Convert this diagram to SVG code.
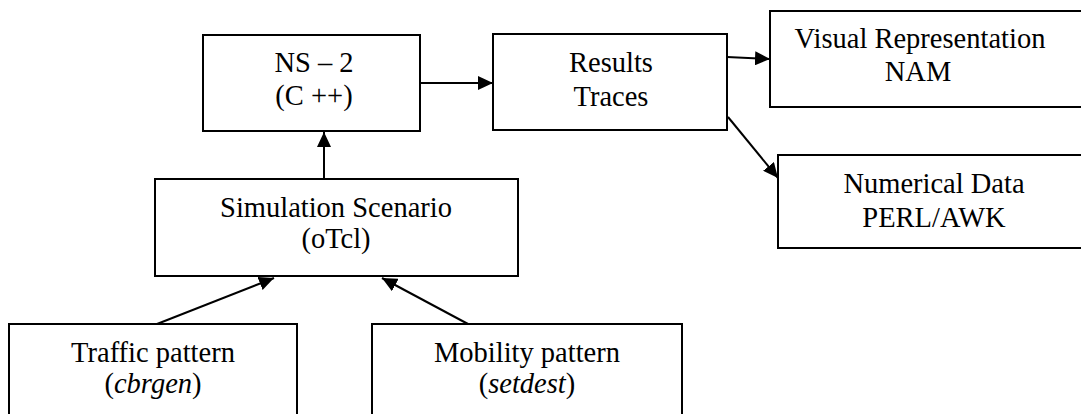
<svg xmlns="http://www.w3.org/2000/svg" width="1081" height="414" viewBox="0 0 1081 414">
  <style>
    .box { fill: #fff; stroke: #000; stroke-width: 2; }
    .lbl { font-family: "Liberation Serif", "Times New Roman", serif; font-size: 28.5px; fill: #000; text-anchor: middle; }
    .it { font-style: italic; }
    .conn { stroke: #000; stroke-width: 2; fill: none; marker-end: url(#arr); }
  </style>
  <defs>
    <marker id="arr" markerUnits="userSpaceOnUse" markerWidth="16" markerHeight="14" refX="15" refY="7" orient="auto">
      <path d="M0,0 L15,7 L0,14 z" fill="#000"/>
    </marker>
  </defs>
  <rect width="1081" height="414" fill="#fff"/>
  <g id="ns2">
    <rect class="box" x="203" y="35" width="217" height="96"/>
    <text class="lbl" x="314" y="72">NS – 2</text>
    <text class="lbl" x="314" y="105">(C ++)</text>
  </g>
  <g id="results">
    <rect class="box" x="493" y="34" width="234" height="96"/>
    <text class="lbl" x="611" y="72">Results</text>
    <text class="lbl" x="611" y="106">Traces</text>
  </g>
  <g id="visual">
    <rect class="box" x="770" y="11" width="330" height="96"/>
    <text class="lbl" x="920" y="48">Visual Representation</text>
    <text class="lbl" x="918" y="81">NAM</text>
  </g>
  <g id="numerical">
    <rect class="box" x="778" y="155" width="330" height="93"/>
    <text class="lbl" x="934" y="193">Numerical Data</text>
    <text class="lbl" x="934" y="227">PERL/AWK</text>
  </g>
  <g id="simulation">
    <rect class="box" x="155" y="179" width="363" height="97"/>
    <text class="lbl" x="336" y="217">Simulation Scenario</text>
    <text class="lbl" x="336" y="248">(oTcl)</text>
  </g>
  <g id="traffic">
    <rect class="box" x="9" y="324" width="288" height="110"/>
    <text class="lbl" x="153" y="362">Traffic pattern</text>
    <text class="lbl" x="153" y="393">(<tspan class="it">cbrgen</tspan>)</text>
  </g>
  <g id="mobility">
    <rect class="box" x="372" y="324" width="310" height="110"/>
    <text class="lbl" x="527" y="362">Mobility pattern</text>
    <text class="lbl" x="527" y="393">(<tspan class="it">setdest</tspan>)</text>
  </g>
  <g id="connectors">
    <line class="conn" x1="420" y1="83" x2="493" y2="83"/>
    <line class="conn" x1="324" y1="179" x2="324" y2="132"/>
    <line class="conn" x1="727" y1="57" x2="770" y2="59"/>
    <line class="conn" x1="728" y1="117" x2="778" y2="178"/>
    <line class="conn" x1="157" y1="324" x2="274" y2="278"/>
    <line class="conn" x1="468" y1="324" x2="382" y2="278"/>
  </g>
</svg>
